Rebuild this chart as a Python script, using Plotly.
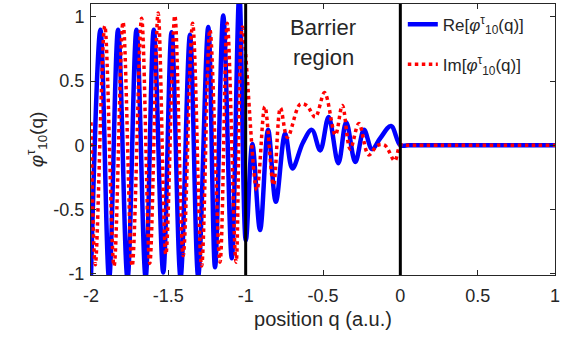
import plotly.graph_objects as go

re_q = [-2.0, -1.939, -1.883, -1.825, -1.764, -1.706, -1.647, -1.594, -1.533, -1.479,
        -1.421, -1.360, -1.307, -1.242, -1.198, -1.145, -1.090, -1.041, -0.999, -0.957,
        -0.907, -0.855, -0.805, -0.745, -0.698, -0.630, -0.572, -0.518, -0.464, -0.401,
        -0.350, -0.291, -0.235, -0.183, -0.130, -0.060, 0.0, 0.05, 1.0]
re_v = [-1.02, 0.90, -1.04, 0.90, -1.04, 0.90, -1.03, 0.90, -0.99, 0.88,
        -1.03, 0.86, -1.02, 0.92, -0.95, 1.01, -0.88, 1.18, -0.74, 0.01,
        -0.66, 0.12, -0.44, 0.09, -0.18, 0.02, 0.12, -0.04, 0.22, -0.14,
        0.18, -0.13, 0.12, -0.03, 0.055, 0.15, 0.0, 0.0, 0.0]

# Imaginary part (red dotted)
im_q = [-2.0, -1.972, -1.911, -1.851, -1.793, -1.734, -1.673, -1.620, -1.566, -1.516,
        -1.458, -1.404, -1.343, -1.285, -1.231, -1.166, -1.119, -1.062, -1.021, -0.928,
        -0.876, -0.820, -0.775, -0.730, -0.648, -0.605, -0.550, -0.490, -0.420, -0.375,
        -0.324, -0.268, -0.205, -0.147, -0.100, -0.036, 0.0, 0.05, 1.0]
im_v = [0.18, -0.93, 0.93, -0.94, 0.96, -0.94, 0.99, -0.92, 1.03, -0.85,
        1.01, -0.86, 0.95, -0.94, 0.90, -0.91, 0.95, -0.91, 0.92, -0.35,
        0.30, -0.31, 0.29, 0.06, 0.32, 0.31, 0.22, 0.41, 0.08, 0.31,
        -0.03, 0.17, -0.075, 0.0, 0.0, -0.12, 0.0, 0.0, 0.0]

barrier_edges = [-1.0, 0.0]
x_ticks = [-2, -1.5, -1, -0.5, 0, 0.5, 1]
x_ticklabels = ["-2", "-1.5", "-1", "-0.5", "0", "0.5", "1"]
y_ticks = [-1, -0.5, 0, 0.5, 1]
y_ticklabels = ["-1", "-0.5", "0", "0.5", "1"]

FONT = "Liberation Sans, Arial, sans-serif"
AX = "#262626"

fig = go.Figure()
fig.add_trace(go.Scatter(
    x=re_q, y=re_v, mode="lines",
    line=dict(color="#0000ff", width=4.5, shape="spline", smoothing=1.0),
    name="Re[<i>φ</i><sup>τ</sup><sub>10</sub>(q)]", legendgroup="a"))
fig.add_trace(go.Scatter(
    x=im_q, y=im_v, mode="lines",
    line=dict(color="#ff0000", width=3.5, dash="dot", shape="spline", smoothing=1.0),
    name="Im[<i>φ</i><sup>τ</sup><sub>10</sub>(q)]", legendgroup="b"))

for xe in barrier_edges:
    fig.add_shape(type="line", xref="x", yref="paper", x0=xe, x1=xe, y0=0, y1=1,
                  line=dict(color="black", width=3), layer="above")

fig.add_annotation(x=-0.5, y=0.92, xref="x", yref="y", text="Barrier", showarrow=False,
                   font=dict(family=FONT, size=22, color=AX))
fig.add_annotation(x=-0.5, y=0.68, xref="x", yref="y", text="region", showarrow=False,
                   font=dict(family=FONT, size=22, color=AX))

fig.update_layout(
    width=565, height=338,
    margin=dict(l=91, r=10, t=4, b=63),
    paper_bgcolor="white", plot_bgcolor="white",
    font=dict(family=FONT, size=18, color=AX),
    legend=dict(x=0.672, y=0.99, xanchor="left", yanchor="top",
                bgcolor="rgba(255,255,255,0)", borderwidth=0,
                font=dict(family=FONT, size=17, color=AX),
                itemwidth=30, tracegroupgap=15, traceorder="grouped"),
    xaxis=dict(range=[-2, 1], tickvals=x_ticks, ticktext=x_ticklabels,
               showline=True, mirror="ticks", linecolor=AX, linewidth=1,
               ticks="inside", ticklen=5, tickcolor=AX, showgrid=False, zeroline=False,
               tickfont=dict(size=18), ticklabelstandoff=4,
               title=dict(text="position q (a.u.)", font=dict(size=20), standoff=7)),
    yaxis=dict(range=[-1.01, 1.1], tickvals=y_ticks, ticktext=y_ticklabels,
               showline=True, mirror="ticks", linecolor=AX, linewidth=1,
               ticks="inside", ticklen=5, tickcolor=AX, showgrid=False, zeroline=False,
               tickfont=dict(size=18), ticklabelstandoff=2,
               title=dict(text="<i>φ</i><sup>τ</sup><sub>10</sub>(q)", font=dict(size=19), standoff=4)),
)

fig.write_html("out.html")
